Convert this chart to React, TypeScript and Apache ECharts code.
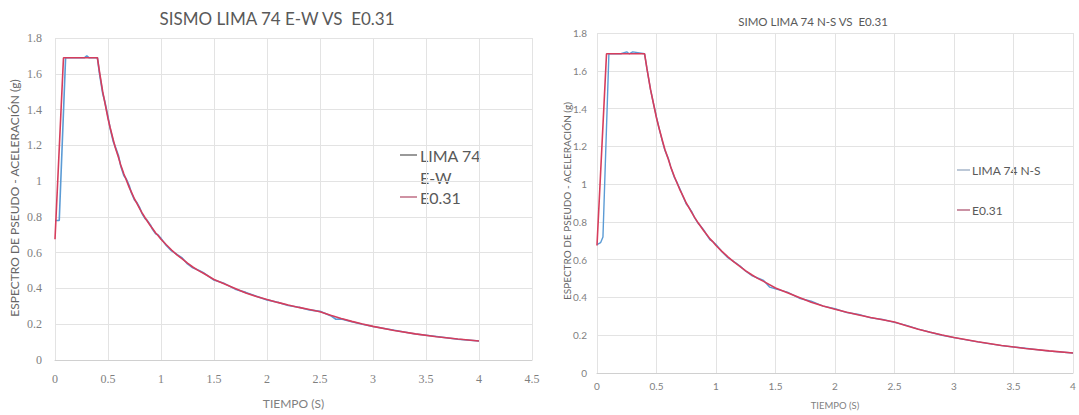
import React, { useEffect, useRef } from "react";
import * as echarts from "echarts";

// ---- Data ----
const TITLE_LEFT = "SISMO LIMA 74 E-W VS  E0.31";
const TITLE_RIGHT = "SIMO LIMA 74 N-S VS  E0.31";
const Y_NAME = "ESPECTRO DE PSEUDO - ACELERACIÓN (g)";
const X_NAME = "TIEMPO (S)";

// E0.31 design spectrum (same in both charts)
const T_E031 = [0, 0.08, 0.4, 0.42, 0.45, 0.47, 0.5, 0.52, 0.55, 0.57, 0.6, 0.62, 0.65, 0.67, 0.7, 0.72, 0.75, 0.77, 0.8, 0.82, 0.85, 0.87, 0.9, 0.92, 0.95, 0.97, 1.0, 1.05, 1.1, 1.15, 1.2, 1.25, 1.3, 1.35, 1.4, 1.5, 1.6, 1.7, 1.8, 1.9, 2.0, 2.1, 2.2, 2.3, 2.4, 2.5, 2.6, 2.7, 2.8, 2.9, 3.0, 3.2, 3.4, 3.6, 3.8, 4.0];
const SA_E031 = [0.675, 1.69, 1.69, 1.61, 1.5, 1.44, 1.35, 1.3, 1.23, 1.185, 1.13, 1.09, 1.04, 1.01, 0.965, 0.94, 0.9, 0.878, 0.845, 0.824, 0.795, 0.777, 0.75, 0.735, 0.71, 0.697, 0.675, 0.644, 0.615, 0.588, 0.565, 0.541, 0.52, 0.501, 0.485, 0.45, 0.425, 0.4, 0.375, 0.355, 0.338, 0.322, 0.307, 0.294, 0.282, 0.27, 0.25, 0.232, 0.216, 0.201, 0.188, 0.165, 0.146, 0.13, 0.117, 0.106];

// LIMA 74 E-W
const T_EW = [0, 0.04, 0.1, 0.2, 0.28, 0.3, 0.32, 0.4, 0.42, 0.45, 0.47, 0.5, 0.52, 0.55, 0.57, 0.6, 0.62, 0.65, 0.67, 0.7, 0.72, 0.75, 0.77, 0.8, 0.82, 0.85, 0.87, 0.9, 0.92, 0.95, 0.97, 1.0, 1.05, 1.1, 1.15, 1.2, 1.25, 1.3, 1.35, 1.4, 1.5, 1.6, 1.7, 1.8, 1.9, 2.0, 2.1, 2.2, 2.3, 2.4, 2.5, 2.6, 2.65, 2.7, 2.8, 2.9, 3.0, 3.2, 3.4, 3.6, 3.8, 4.0];
const SA_EW = [0.78, 0.78, 1.69, 1.69, 1.69, 1.7, 1.69, 1.69, 1.6, 1.49, 1.445, 1.36, 1.295, 1.22, 1.19, 1.14, 1.085, 1.03, 1.015, 0.975, 0.935, 0.895, 0.882, 0.85, 0.82, 0.79, 0.78, 0.755, 0.73, 0.705, 0.7, 0.68, 0.64, 0.61, 0.59, 0.57, 0.537, 0.515, 0.503, 0.488, 0.447, 0.427, 0.396, 0.378, 0.357, 0.336, 0.323, 0.305, 0.295, 0.28, 0.272, 0.248, 0.228, 0.23, 0.214, 0.2, 0.187, 0.166, 0.145, 0.131, 0.116, 0.106];

// LIMA 74 N-S
const T_NS = [0, 0.03, 0.05, 0.1, 0.2, 0.25, 0.27, 0.3, 0.4, 0.42, 0.45, 0.47, 0.5, 0.52, 0.55, 0.57, 0.6, 0.62, 0.65, 0.67, 0.7, 0.72, 0.75, 0.77, 0.8, 0.82, 0.85, 0.87, 0.9, 0.92, 0.95, 0.97, 1.0, 1.05, 1.1, 1.15, 1.2, 1.25, 1.3, 1.35, 1.4, 1.45, 1.5, 1.6, 1.7, 1.8, 1.9, 2.0, 2.1, 2.2, 2.3, 2.4, 2.5, 2.6, 2.7, 2.8, 2.9, 3.0, 3.2, 3.4, 3.6, 3.8, 4.0];
const SA_NS = [0.68, 0.69, 0.72, 1.69, 1.69, 1.7, 1.69, 1.7, 1.69, 1.61, 1.5, 1.44, 1.355, 1.3, 1.225, 1.18, 1.135, 1.09, 1.035, 1.012, 0.97, 0.938, 0.895, 0.88, 0.85, 0.822, 0.792, 0.779, 0.755, 0.733, 0.705, 0.698, 0.68, 0.642, 0.61, 0.59, 0.568, 0.539, 0.516, 0.503, 0.49, 0.455, 0.445, 0.428, 0.396, 0.38, 0.354, 0.34, 0.32, 0.31, 0.292, 0.283, 0.268, 0.252, 0.232, 0.216, 0.2, 0.187, 0.165, 0.145, 0.131, 0.116, 0.106];

const X_MAX_LEFT = 4.5;
const X_MAX_RIGHT = 4;
const Y_MAX = 1.8;
const X_STEP = 0.5;
const Y_STEP = 0.2;

const pairs = (t: number[], v: number[]) => t.map((x, i) => [x, v[i]]);

const BLUE = "#5b9bd5";
const RED = "#d63d5c";
const GRID = "#e3e3e3";
const TXT = "#7f7f7f";

export default function App() {
  const ref = useRef<HTMLDivElement>(null);
  useEffect(() => {
    if (!ref.current) return;
    const chart = echarts.init(ref.current, null, { renderer: "svg" });
    const sans = "Lato, 'Open Sans', sans-serif";
    const serif = "'Liberation Serif', 'DejaVu Serif', serif";
    const xAxisBase = (gridIndex: number, max: number, fs: number, fam: string, margin: number, nameGap: number, nameFs: number) => ({
      type: "value",
      gridIndex,
      min: 0,
      max,
      interval: X_STEP,
      name: X_NAME,
      nameLocation: "middle",
      nameGap,
      nameTextStyle: { color: TXT, fontSize: nameFs, fontFamily: sans },
      axisLine: { show: true, lineStyle: { color: "#d0d0d0" } },
      axisTick: { show: false },
      axisLabel: { color: TXT, fontSize: fs, fontFamily: fam, margin },
      splitLine: { show: true, lineStyle: { color: GRID, width: 1 } },
    });
    const yAxisBase = (gridIndex: number, fs: number, fam: string, margin: number) => ({
      type: "value",
      gridIndex,
      min: 0,
      max: Y_MAX,
      interval: Y_STEP,
      axisLine: { show: false },
      axisTick: { show: false },
      axisLabel: { color: TXT, fontSize: fs, fontFamily: fam, margin },
      splitLine: { show: true, lineStyle: { color: GRID, width: 1 } },
    });
    const lineSeries = (name: string, data: number[][], color: string, width: number, idx: number, z: number) => ({
      name,
      type: "line",
      xAxisIndex: idx,
      yAxisIndex: idx,
      data,
      showSymbol: false,
      symbol: "none",
      smooth: false,
      z,
      lineStyle: { color, width },
      itemStyle: { color },
    });
    const txt = (text: string, x: number, y: number, fs: number, fill = "#595959") => ({
      type: "text",
      x,
      y,
      style: { text, fill, fontSize: fs, fontFamily: sans, textAlign: "left", textVerticalAlign: "middle", align: "left", verticalAlign: "middle" },
    });
    const vtxt = (text: string, x: number, y: number, fs: number) => ({
      type: "text",
      x,
      y,
      rotation: Math.PI / 2,
      style: { text, fill: "#666666", fontSize: fs, fontFamily: sans, textAlign: "center", textVerticalAlign: "middle", align: "center", verticalAlign: "middle" },
    });
    const seg = (x1: number, x2: number, y: number, stroke: string) => ({
      type: "line",
      shape: { x1, y1: y, x2, y2: y },
      style: { stroke, lineWidth: 1.2 },
    });

    chart.setOption({
      animation: false,
      backgroundColor: "#ffffff",
      title: [
        { text: TITLE_LEFT, left: 272, top: 5, textAlign: "center", textStyle: { color: "#595959", fontSize: 17, fontWeight: "normal", fontFamily: sans } },
        { text: TITLE_RIGHT, left: 808, top: 10, textAlign: "center", textStyle: { color: "#595959", fontSize: 11.5, fontWeight: "normal", fontFamily: sans } },
      ],
      grid: [
        { left: 55, top: 38, width: 477, height: 322, containLabel: false },
        { left: 597, top: 33, width: 476, height: 343, containLabel: false },
      ],
      xAxis: [
        xAxisBase(0, X_MAX_LEFT, 12, serif, 13, 37, 12),
        xAxisBase(1, X_MAX_RIGHT, 10, sans, 8, 27, 9.5),
      ],
      yAxis: [
        yAxisBase(0, 12, serif, 13),
        yAxisBase(1, 10, sans, 10),
      ],
      series: [
        lineSeries("LIMA 74 E-W", pairs(T_EW, SA_EW), BLUE, 1.6, 0, 2),
        lineSeries("E0.31", pairs(T_E031, SA_E031), RED, 1.6, 0, 3),
        lineSeries("LIMA 74 N-S", pairs(T_NS, SA_NS), BLUE, 1.4, 1, 2),
        lineSeries("E0.31 ", pairs(T_E031, SA_E031), RED, 1.6, 1, 3),
      ],
      graphic: [
        vtxt(Y_NAME, 14, 198, 12),
        vtxt(Y_NAME, 567, 201, 10),
        seg(400, 417, 155, "#555555"),
        txt("LIMA 74", 420, 155, 16),
        txt("E-W", 420, 177, 16),
        seg(400, 417, 197, "#b04a66"),
        txt("E0.31", 420, 197, 16),
        seg(957, 970, 170, "#8fa3bd"),
        txt("LIMA 74 N-S", 972, 170, 12),
        seg(957, 970, 210, "#a84a68"),
        txt("E0.31", 972, 210, 12),
      ],
    });
    return () => chart.dispose();
  }, []);
  return (
    <div
      ref={ref}
      style={{ position: "absolute", left: 0, top: 0, width: 1079, height: 415, background: "#fff" }}
    />
  );
}
